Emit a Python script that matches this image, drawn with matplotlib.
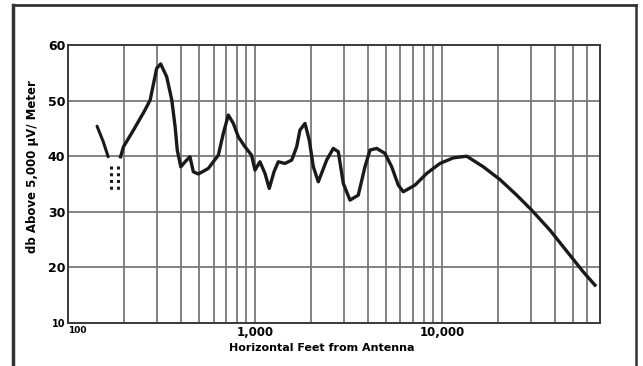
import numpy as np
import matplotlib
matplotlib.use('Agg')
import matplotlib.pyplot as plt
from matplotlib.ticker import LogLocator, NullFormatter, FixedLocator
from matplotlib.lines import Line2D

# field strength readings
near_feet = [143, 154, 164]
near_db = [45.4, 42.7, 39.9]

dots_a_feet = [169, 169]
dots_b_feet = [186, 186]
dots_db = [38.2, 33.5]

feet = [191, 198, 224, 258, 275, 298, 313, 337, 359, 374, 384, 401, 431, 449,
        468, 498, 563, 637, 677, 720, 766, 814, 884, 958, 1000, 1063, 1131,
        1192, 1264, 1332, 1447, 1572, 1671, 1740, 1851, 1951, 2051, 2181, 2417,
        2622, 2790, 2967, 3221, 3568, 3874, 4121, 4476, 4957, 5383, 5838, 6209,
        7172, 8284, 9757, 11493, 13555, 16630, 20420, 25090, 30180, 37800,
        48350, 56950, 65800]
db = [39.9, 41.7, 44.7, 48.3, 50.1, 55.8, 56.6, 54.3, 50.1, 45.3, 41.1, 38.1,
      39.3, 39.9, 37.2, 36.8, 37.8, 40.2, 44.1, 47.4, 45.9, 43.5, 41.7, 40.2,
      37.5, 39.0, 36.9, 34.2, 37.2, 39.0, 38.7, 39.3, 41.7, 44.7, 45.9, 42.9,
      38.1, 35.4, 39.3, 41.4, 40.8, 35.1, 32.1, 33.0, 38.1, 41.1, 41.4, 40.5,
      38.1, 34.8, 33.6, 34.8, 36.9, 38.7, 39.7, 40.0, 38.1, 35.8, 33.0, 30.3,
      26.7, 22.2, 19.2, 16.8]

x_ticks = [100, 1000, 10000]
x_labels = ['100', '1,000', '10,000']
y_ticks = [10, 20, 30, 40, 50, 60]

fig = plt.figure(figsize=(6.43, 3.66), dpi=100)
ax = fig.add_axes([68/643, 1 - 323/366, 532/643, 278/366])

grid_col = '#787878'
ax.set_xscale('log')
ax.set_xlim(100, 70000)
ax.set_ylim(10, 60)
ax.xaxis.set_major_locator(FixedLocator(x_ticks))
ax.xaxis.set_minor_locator(LogLocator(base=10, subs=np.arange(2, 10)))
ax.xaxis.set_minor_formatter(NullFormatter())
ax.set_xticks(x_ticks)
ax.set_xticklabels(x_labels, fontsize=8.5, fontweight='bold')
ax.set_yticks(y_ticks)
ax.set_yticklabels([str(v) for v in y_ticks], fontsize=9, fontweight='bold')
ax.tick_params(which='both', length=0, pad=2)
ax.grid(True, which='both', axis='x', color=grid_col, lw=1.3)
ax.grid(True, which='major', axis='y', color=grid_col, lw=1.3)

# small "10" and "100" at the corner
ax.get_yticklabels()[0].set_fontsize(7)
ax.get_xticklabels()[0].set_fontsize(6.5)
ax.get_xticklabels()[0].set_horizontalalignment('left')

for s in ax.spines.values():
    s.set_color('#3a3a3a')
    s.set_linewidth(1.4)

ax.plot(near_feet, near_db, color='#1a1a1a', lw=2.2, solid_capstyle='round')
ax.plot(feet, db, color='#1a1a1a', lw=2.4, solid_joinstyle='round')
ax.plot(dots_a_feet, dots_db, color='#1a1a1a', lw=2.2, ls=(0, (1, 1.2)))
ax.plot(dots_b_feet, dots_db, color='#1a1a1a', lw=2.2, ls=(0, (1, 1.2)))

fig.text(322/643, 1 - 348/366, 'Horizontal Feet from Antenna', ha='center',
         va='center', fontsize=8, fontweight='bold')
fig.text(33/643, 1 - 167/366, 'db Above 5,000 µV/ Meter', rotation=90,
         ha='center', va='center', fontsize=8.5, fontweight='bold')

# frame around the figure
fig.add_artist(Line2D([13/643, 636/643], [1 - 5/366, 1 - 5/366], color='#333333', lw=2))
fig.add_artist(Line2D([13/643, 13/643], [1 - 5/366, 0], color='#333333', lw=2.5))
fig.add_artist(Line2D([636/643, 636/643], [1 - 5/366, 0], color='#333333', lw=1.8))

fig.savefig('out.png', dpi=100)
